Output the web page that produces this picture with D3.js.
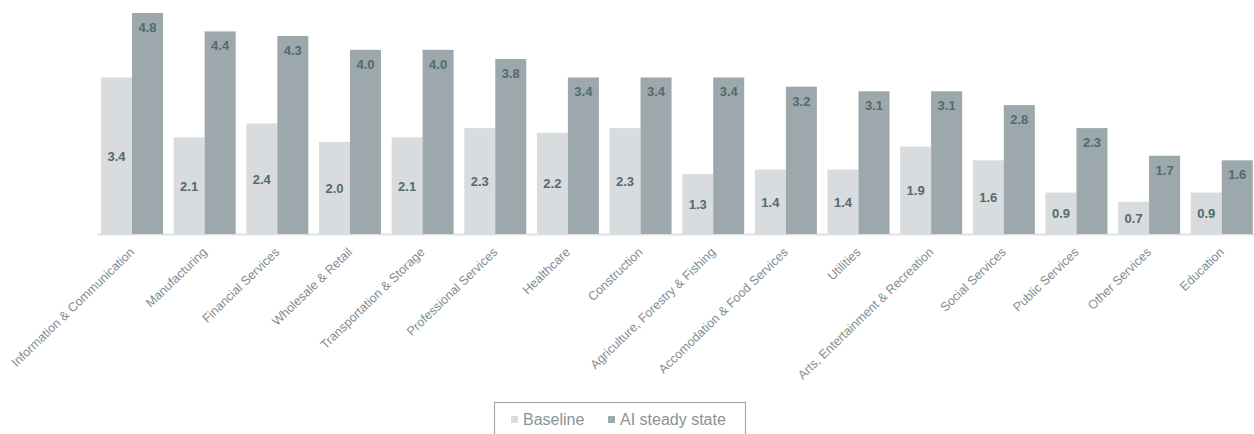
<!DOCTYPE html>
<html>
<head>
<meta charset="utf-8">
<script src="https://cdn.jsdelivr.net/npm/d3@7"></script>
<style>
  html, body { margin: 0; padding: 0; background: #fff; }
  svg { display: block; font-family: "Liberation Sans", Arial, sans-serif; }
</style>
</head>
<body>
<svg id="chart" width="1254" height="434"></svg>
<script>
const categories = [
  "Information & Communication", "Manufacturing", "Financial Services",
  "Wholesale & Retail", "Transportation & Storage", "Professional Services",
  "Healthcare", "Construction", "Agriculture, Forestry & Fishing",
  "Accomodation & Food Services", "Utilities", "Arts, Entertainment & Recreation",
  "Social Services", "Public Services", "Other Services", "Education"
];
const baseline = [3.4, 2.1, 2.4, 2.0, 2.1, 2.3, 2.2, 2.3, 1.3, 1.4, 1.4, 1.9, 1.6, 0.9, 0.7, 0.9];
const aiSteady = [4.8, 4.4, 4.3, 4.0, 4.0, 3.8, 3.4, 3.4, 3.4, 3.2, 3.1, 3.1, 2.8, 2.3, 1.7, 1.6];
const seriesNames = ["Baseline", "AI steady state"];
const seriesColors = ["#d8dcde", "#9ca8ac"];

const svg = d3.select("#chart");

const x0 = d3.scaleBand().domain(categories).range([101, 1252.75])
  .paddingInner(0.1466).paddingOuter(0);
const x1 = d3.scaleBand().domain(seriesNames).range([0, x0.bandwidth()]).padding(0);
const y = d3.scaleLinear().domain([0, 4.8]).range([234, 13]);

const rows = categories.map((c, i) => ({ cat: c, vals: [baseline[i], aiSteady[i]] }));

// axis line
svg.append("line")
  .attr("x1", 97).attr("x2", 1254)
  .attr("y1", 234.5).attr("y2", 234.5)
  .attr("stroke", "#dfe2e3").attr("stroke-width", 2);

const g = svg.append("g").selectAll("g").data(rows).join("g")
  .attr("transform", d => `translate(${x0(d.cat)},0)`);

g.selectAll("rect").data(d => d.vals.map((v, k) => ({ k, v }))).join("rect")
  .attr("x", d => x1(seriesNames[d.k]))
  .attr("width", x1.bandwidth())
  .attr("y", d => y(d.v))
  .attr("height", d => y(0) - y(d.v))
  .attr("fill", d => seriesColors[d.k]);

g.selectAll("text.val").data(d => d.vals.map((v, k) => ({ k, v }))).join("text")
  .attr("class", "val")
  .attr("x", d => x1(seriesNames[d.k]) + x1.bandwidth() / 2)
  .attr("y", d => d.k === 0 ? (y(d.v) + y(0)) / 2 + 5 : y(d.v) + 19)
  .attr("text-anchor", "middle")
  .attr("font-size", 13)
  .attr("font-weight", "bold")
  .attr("fill", "#536a6e")
  .text(d => d.v.toFixed(1));

// x axis labels
svg.append("g").selectAll("text").data(categories).join("text")
  .attr("transform", d => `translate(${x0(d) + x0.bandwidth() / 2 + 3},253) rotate(-44)`)
  .attr("text-anchor", "end")
  .attr("font-size", 12.5)
  .attr("fill", "#838d90")
  .text(d => d);

// legend
const lg = svg.append("g");
lg.append("rect").attr("x", 494.5).attr("y", 402.5).attr("width", 251).attr("height", 40)
  .attr("fill", "none").attr("stroke", "#a3a9ab").attr("stroke-width", 1.2);
const legendX = [511, 608];
seriesNames.forEach((n, k) => {
  lg.append("rect").attr("x", legendX[k]).attr("y", 416).attr("width", 7).attr("height", 7)
    .attr("fill", seriesColors[k]);
  lg.append("text").attr("x", legendX[k] + 12).attr("y", 425)
    .attr("font-size", 16).attr("fill", "#8a9395").text(n);
});
</script>
</body>
</html>
